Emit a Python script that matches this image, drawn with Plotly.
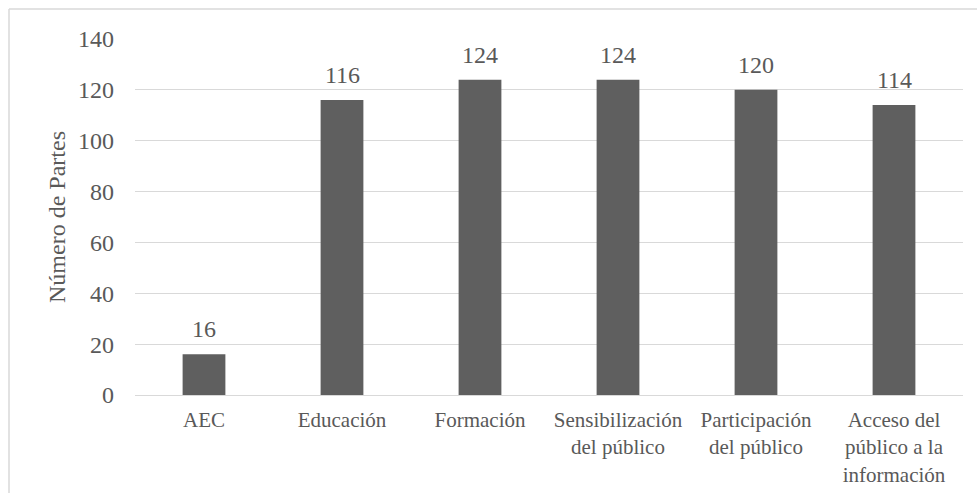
import plotly.graph_objects as go

categories = ["AEC", "Educación", "Formación", "Sensibilización<br>del público",
              "Participación<br>del público", "Acceso del<br>público a la<br>información"]
values = [16, 116, 124, 124, 120, 114]
y_ticks = [0, 20, 40, 60, 80, 100, 120, 140]

FONT = "Liberation Serif, Times New Roman, serif"
TXT = "#595959"
GRID = "#d9d9d9"

fig = go.Figure(go.Bar(
    x=categories, y=values,
    marker=dict(color="#5f5f5f", line=dict(width=0)),
))

for c, v in zip(categories, values):
    fig.add_annotation(x=c, y=v, text=str(v), showarrow=False, yanchor="bottom",
                       yshift=10, font=dict(family=FONT, size=24, color=TXT))

L, R, T, B = 135, 14, 39, 98
W, H = 977, 493
pw, ph = W - L - R, H - T - B

fig.update_layout(
    width=W, height=H,
    margin=dict(l=L, r=R, t=T, b=B, pad=0, autoexpand=False),
    paper_bgcolor="white", plot_bgcolor="white",
    font=dict(family=FONT, size=21, color=TXT),
    bargap=0.69,
    showlegend=False,
    xaxis=dict(showgrid=False, showline=False, ticks="", tickfont=dict(size=21, color=TXT),
               ticklabelstandoff=10, automargin=False),
    yaxis=dict(range=[0, 140], tickvals=y_ticks, showgrid=True, gridcolor=GRID, gridwidth=1.3,
               zeroline=True, zerolinecolor=GRID, zerolinewidth=1.3, showline=False,
               tickfont=dict(size=24, color=TXT), ticklabelstandoff=20, automargin=False,
               title=dict(text="Número de Partes", font=dict(size=24, color=TXT), standoff=5)),
    shapes=[
        dict(type="line", xref="paper", yref="paper",
             x0=(9 - L) / pw, x1=(W + 5 - L) / pw, y0=(H - B - 9) / ph, y1=(H - B - 9) / ph,
             line=dict(color=GRID, width=1.5)),
        dict(type="line", xref="paper", yref="paper",
             x0=(9 - L) / pw, x1=(9 - L) / pw, y0=(H - B - 9) / ph, y1=-(B + 5) / ph,
             line=dict(color=GRID, width=1.5)),
    ],
)

fig.write_html("out.html")
